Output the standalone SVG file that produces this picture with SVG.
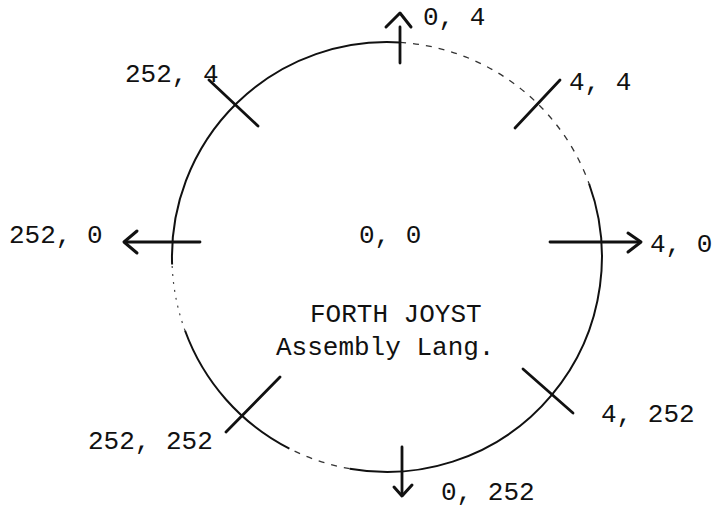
<svg xmlns="http://www.w3.org/2000/svg" width="717" height="507" viewBox="0 0 717 507">
<style>
.lbl{font-family:"Liberation Mono","Courier New",monospace;font-size:26px;fill:#111}
.solid{fill:none;stroke:#111;stroke-width:2}
.faint{fill:none;stroke:#333;stroke-width:1.3;stroke-dasharray:6 7}
.dot{fill:none;stroke:#444;stroke-width:1.2;stroke-dasharray:2 6}
.tick{fill:none;stroke:#111;stroke-width:2.8;stroke-linecap:round}
.head{fill:none;stroke:#111;stroke-width:3;stroke-linecap:round;stroke-linejoin:round}
</style>
<rect width="717" height="507" fill="#fff"/>
<g id="circle">
<path class="solid" d="M589,183.5 A215,215 0 0 1 349.7,468.7"/>
<path class="faint" d="M349.7,468.7 A215,215 0 0 1 289.4,448.6"/>
<path class="solid" d="M289.4,448.6 A215,215 0 0 1 185,330.5"/>
<path class="dot" d="M185,330.5 A215,215 0 0 1 172.1,264.5"/>
<path class="solid" d="M172.1,264.5 A215,215 0 0 1 400.1,42.4"/>
<path class="faint" d="M400.1,42.4 A215,215 0 0 1 589,183.5"/>
</g>
<g id="connectors">
<line class="tick" x1="400" y1="27" x2="400" y2="63"/>
<polyline class="head" points="386,27 400,13 411,27"/>
<line class="tick" x1="126" y1="242" x2="200" y2="242"/>
<polyline class="head" points="137,231 124,242 137,253"/>
<line class="tick" x1="550" y1="242" x2="640" y2="242"/>
<polyline class="head" points="628,233 641,242 628,252"/>
<line class="tick" x1="402" y1="447" x2="402" y2="494"/>
<polyline class="head" points="394,487 402,496 412,485"/>
<line class="tick" x1="209" y1="80" x2="258" y2="126"/>
<line class="tick" x1="515" y1="128" x2="560" y2="80"/>
<line class="tick" x1="523" y1="369" x2="573" y2="413"/>
<line class="tick" x1="226" y1="432" x2="280" y2="377"/>
</g>
<g id="labels">
<text class="lbl" x="423" y="25">0, 4</text>
<text class="lbl" x="125" y="82">252, 4</text>
<text class="lbl" x="569" y="90">4, 4</text>
<text class="lbl" x="9" y="243">252, 0</text>
<text class="lbl" x="359" y="243">0, 0</text>
<text class="lbl" x="650" y="252">4, 0</text>
<text class="lbl" x="310" y="322">FORTH JOYST</text>
<text class="lbl" x="276" y="355">Assembly Lang.</text>
<text class="lbl" x="601" y="422">4, 252</text>
<text class="lbl" x="88" y="449">252, 252</text>
<text class="lbl" x="441" y="500">0, 252</text>
</g>
</svg>
